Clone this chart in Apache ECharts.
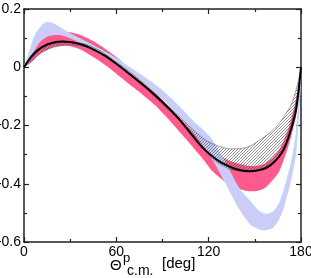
<!DOCTYPE html>
<html><head><meta charset="utf-8">
<script src="https://cdn.jsdelivr.net/npm/echarts@6/dist/echarts.min.js"></script>
<style>html,body{margin:0;padding:0;background:#fff}#c{width:311px;height:278px}</style>
</head><body><div id="c"></div>
<script>
// ---- data (angle in deg, value) ----
const xTicks = [0, 60, 120, 180];
const yTicks = [-0.6, -0.4, -0.2, 0, 0.2];

const blackDeg = [0, 3, 7, 12, 18, 25, 30, 38, 46, 53, 60, 69, 79, 89, 99, 108, 115, 120, 128, 138, 147, 155, 160, 166, 170, 174, 177, 180];
const blackVal = [0, 0.024, 0.05, 0.07, 0.083, 0.088, 0.087, 0.077, 0.059, 0.038, 0.012, -0.025, -0.068, -0.115, -0.168, -0.225, -0.27, -0.295, -0.327, -0.35, -0.357, -0.35, -0.337, -0.305, -0.268, -0.205, -0.14, 0];

const pinkDeg  = [0, 5, 10, 15, 20, 25, 30, 37, 45, 52, 60, 67, 75, 85, 95, 105, 117, 123, 134, 145, 152, 157, 165, 169, 173.5, 177, 180];
const pinkHigh = [0, 0.05, 0.088, 0.108, 0.118, 0.122, 0.12, 0.11, 0.09, 0.066, 0.035, 0.003, -0.035, -0.085, -0.14, -0.195, -0.262, -0.29, -0.322, -0.338, -0.338, -0.33, -0.29, -0.25, -0.18, -0.1, 0];
const pinkLow  = [0, 0.02, 0.045, 0.06, 0.07, 0.074, 0.072, 0.06, 0.035, 0.01, -0.022, -0.052, -0.085, -0.13, -0.185, -0.245, -0.32, -0.36, -0.405, -0.425, -0.424, -0.413, -0.365, -0.315, -0.24, -0.16, 0];

const blueDeg  = [0, 3, 7, 11, 15, 19, 24, 30, 40, 50, 60, 70, 80, 90, 100, 110, 121, 130, 139, 147, 152, 157, 162, 166, 169, 173.5, 177, 180];
const blueHigh = [0, 0.045, 0.108, 0.14, 0.155, 0.15, 0.135, 0.115, 0.088, 0.06, 0.03, -0.005, -0.04, -0.08, -0.13, -0.185, -0.24, -0.32, -0.41, -0.46, -0.49, -0.505, -0.495, -0.465, -0.42, -0.33, -0.22, 0];
const blueLow  = [0, 0.02, 0.06, 0.09, 0.105, 0.11, 0.11, 0.1, 0.075, 0.045, 0.012, -0.025, -0.065, -0.11, -0.165, -0.225, -0.305, -0.39, -0.48, -0.54, -0.555, -0.56, -0.55, -0.52, -0.48, -0.39, -0.29, -0.05];

const hatchDeg  = [0, 5, 10, 15, 20, 25, 30, 40, 50, 60, 70, 80, 90, 100, 110, 118, 126, 134, 145, 156, 162, 167, 170, 173.5, 177, 180];
const hatchHigh = [0, 0.03, 0.058, 0.074, 0.082, 0.086, 0.087, 0.079, 0.055, 0.018, -0.021, -0.066, -0.115, -0.165, -0.215, -0.25, -0.27, -0.28, -0.275, -0.24, -0.215, -0.185, -0.16, -0.13, -0.075, 0];
const hatchLow  = [0, 0.02, 0.045, 0.06, 0.07, 0.075, 0.077, 0.07, 0.047, 0.01, -0.03, -0.076, -0.127, -0.177, -0.232, -0.29, -0.328, -0.35, -0.36, -0.35, -0.33, -0.295, -0.26, -0.2, -0.12, 0];

// ---- helpers ----
function hatchCanvas() {
  const c = document.createElement('canvas');
  c.width = 3; c.height = 3;
  const g = c.getContext('2d');
  g.strokeStyle = '#444'; g.lineWidth = 0.6;
  g.beginPath();
  g.moveTo(0, 3); g.lineTo(3, 0);
  g.moveTo(-1, 1); g.lineTo(1, -1);
  g.moveTo(2, 4); g.lineTo(4, 2);
  g.stroke();
  return c;
}
function band(degs, low, high, fill, edgeHigh, edgeLow, edgeW) {
  return function (params, api) {
    const top = [], bot = [];
    for (let i = 0; i < degs.length; i++) {
      top.push(api.coord([degs[i], high[i]]));
      bot.push(api.coord([degs[i], low[i]]));
    }
    const poly = top.concat(bot.slice().reverse());
    const children = [{ type: 'polygon', shape: { points: poly, smooth: 0.25 }, style: { fill: fill, stroke: null } }];
    if (edgeHigh) children.push({ type: 'polyline', shape: { points: top, smooth: 0.25 }, style: { fill: null, stroke: edgeHigh, lineWidth: edgeW } });
    if (edgeLow) children.push({ type: 'polyline', shape: { points: bot, smooth: 0.25 }, style: { fill: null, stroke: edgeLow, lineWidth: edgeW } });
    return { type: 'group', children: children };
  };
}

const axisColor = '#222';
const font = 'Liberation Sans, Arial, sans-serif';
const chart = echarts.init(document.getElementById('c'), null, { renderer: 'canvas' });
const xBase = {
  type: 'value', min: xTicks[0], max: xTicks[xTicks.length - 1], interval: 60,
  axisLine: { onZero: false, lineStyle: { color: axisColor, width: 1.5 } },
  axisTick: { inside: true, length: 5, lineStyle: { color: axisColor, width: 1.2 } },
  minorTick: { show: true, splitNumber: 2, length: 3, lineStyle: { color: axisColor, width: 1.2 } },
  splitLine: { show: false }
};
const yBase = {
  type: 'value', min: yTicks[0], max: yTicks[yTicks.length - 1], interval: 0.2,
  axisLine: { onZero: false, lineStyle: { color: axisColor, width: 1.5 } },
  axisTick: { inside: true, length: 5, lineStyle: { color: axisColor, width: 1.2 } },
  minorTick: { show: true, splitNumber: 2, length: 3, lineStyle: { color: axisColor, width: 1.2 } },
  splitLine: { show: false }
};
chart.setOption({
  animation: false,
  grid: { left: 24, right: 10, top: 9, bottom: 36, outerBoundsMode: 'none', containLabel: false },
  xAxis: [
    Object.assign({}, xBase, { position: 'bottom', axisLabel: { color: '#000', fontSize: 14, fontFamily: font, margin: 3 } }),
    Object.assign({}, xBase, { position: 'top', axisLabel: { show: false } })
  ],
  yAxis: [
    Object.assign({}, yBase, { position: 'left', axisLabel: { color: '#000', fontSize: 14, fontFamily: font, margin: 3,
      formatter: v => (Math.abs(v) < 1e-9 ? '0' : v.toFixed(1)) } }),
    Object.assign({}, yBase, { position: 'right', axisLabel: { show: false } })
  ],
  series: [
    { type: 'custom', silent: true, z: 1, data: [[0, 0]], renderItem: band(pinkDeg, pinkLow, pinkHigh, '#ff5a8e', null, null, 0) },
    { type: 'custom', silent: true, z: 2, data: [[0, 0]], renderItem: band(blueDeg, blueLow, blueHigh, '#cbcdf8', '#b4e6f6', null, 1) },
    { type: 'custom', silent: true, z: 3, data: [[0, 0]], renderItem: band(hatchDeg, hatchLow, hatchHigh, { type: 'pattern', image: hatchCanvas(), repeat: 'repeat' }, '#555', '#555', 0.5) },
    { type: 'line', z: 4, showSymbol: false, smooth: 0.4, silent: true,
      data: blackDeg.map((d, i) => [d, blackVal[i]]), lineStyle: { color: '#000', width: 2 } }
  ],
  graphic: [
    { type: 'text', left: 110, top: 258, style: { text: 'Θ', font: '15px ' + font, fill: '#000' } },
    { type: 'text', left: 123, top: 252, style: { text: 'p', font: '13px ' + font, fill: '#000' } },
    { type: 'text', left: 127, top: 264, style: { text: 'c.m.', font: '14px ' + font, fill: '#000' } },
    { type: 'text', left: 162, top: 256, style: { text: '[deg]', font: '15px ' + font, fill: '#000' } }
  ]
});
</script>
</body></html>
